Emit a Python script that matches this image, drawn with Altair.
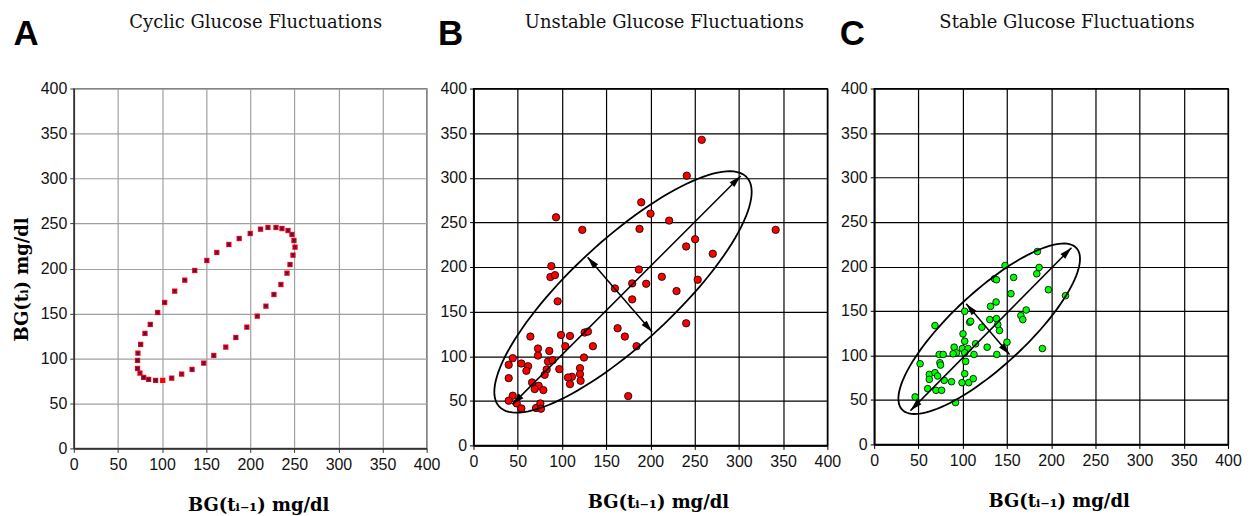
import altair as alt
import pandas as pd
import numpy as np

# ---------------- data ----------------
# Panel A: cyclic fluctuations (BG(t_i-1), BG(t_i))
A_x = [211.7, 220.1, 229.2, 236.0, 242.8, 247.3, 249.6, 250.8, 248.5, 245.1, 241.7,
       234.8, 226.9, 217.8, 208.0, 196.2, 183.7, 172.3, 158.7, 147.3, 134.1, 122.3,
       111.0, 100.8, 92.8, 84.8, 79.2, 75.0, 72.3, 72.3, 72.7, 75.8, 80.7, 86.7,
       95.1, 103.0, 114.4, 125.8, 137.1, 150.8, 162.1, 175.8, 187.5, 200.0]
A_y = [243.7, 245.6, 245.6, 244.4, 242.2, 237.8, 231.1, 223.7, 214.8, 204.4, 194.8,
       182.2, 171.1, 158.1, 147.0, 134.8, 123.3, 112.6, 103.3, 94.8, 87.8, 82.6,
       78.1, 75.6, 75.6, 76.7, 78.9, 83.7, 88.9, 97.8, 105.9, 115.6, 127.8, 137.8,
       151.1, 162.2, 174.8, 187.0, 197.8, 208.9, 217.8, 226.7, 233.3, 238.9]
A_no_cross = [23]  # index of the point drawn without the blue cross

# Panel B: unstable fluctuations
B_x = [258.0, 241.1, 189.6, 200.1, 221.2, 93.3, 123.0, 187.7, 341.6, 250.5, 240.4,
       270.5, 88.0, 86.9, 92.1, 186.9, 212.9, 179.4, 195.2, 253.5, 159.9, 229.5,
       179.4, 95.1, 240.4, 162.9, 171.1, 184.3, 64.3, 98.9, 109.1, 125.6, 129.4,
       135.0, 103.8, 72.9, 72.9, 85.7, 44.4, 39.8, 54.1, 61.7, 59.8, 84.2, 89.5,
       82.7, 80.5, 97.0, 124.9, 120.4, 120.4, 121.1, 111.3, 106.8, 109.1, 39.8,
       66.2, 73.7, 69.2, 79.0, 44.4, 39.8, 48.9, 54.1, 70.7, 75.6, 76.3, 174.9]
B_y = [342.5, 302.3, 272.5, 259.8, 252.0, 255.7, 241.6, 242.7, 241.6, 231.1, 223.0,
       214.8, 201.0, 188.7, 190.9, 197.2, 189.0, 181.6, 181.2, 185.7, 176.0, 173.0,
       163.7, 161.5, 136.9, 131.3, 122.0, 111.2, 122.0, 123.8, 122.7, 126.5, 127.6,
       111.2, 111.2, 108.6, 100.7, 105.9, 97.8, 90.3, 91.8, 88.8, 83.6, 94.0, 95.5,
       85.1, 79.1, 85.5, 98.5, 86.6, 79.9, 72.4, 76.9, 76.1, 68.7, 75.4,
       70.6, 66.8, 63.1, 62.0, 55.7, 50.1, 47.1, 41.5, 41.9, 47.1, 41.1, 55.3]

# Panel C: stable fluctuations
C_x = [184.5, 186.4, 183.8, 147.9, 157.6, 136.0, 138.2, 196.9, 216.3, 154.6, 137.8,
       131.5, 102.3, 171.8, 165.8, 168.0, 68.7, 107.9, 109.0, 130.7, 138.2, 139.7,
       121.7, 141.6, 100.4, 102.3, 114.6, 90.4, 99.7, 106.1, 150.1, 127.7, 190.1,
       93.0, 89.2, 73.5, 78.0, 102.3, 112.8, 103.4, 138.6, 51.9, 74.3, 75.0, 62.3,
       68.7, 71.7, 62.3, 79.1, 87.4, 99.3, 106.8, 112.0, 102.3, 60.5, 69.8, 76.2,
       46.3, 91.9]
C_y = [216.8, 198.9, 191.8, 201.1, 187.7, 186.2, 185.1, 173.9, 167.2, 169.4, 160.1,
       155.2, 149.6, 151.1, 144.8, 140.3, 133.6, 137.3, 138.4, 140.3, 141.4, 134.7,
       131.7, 128.0, 124.3, 116.0, 113.1, 109.3, 107.8, 107.8, 114.9, 109.3, 107.8,
       103.0, 101.9, 101.1, 101.1, 103.0, 101.1, 93.3, 101.1, 90.7, 91.8, 89.2, 78.7,
       80.6, 76.9, 73.1, 72.0, 70.5, 69.4, 69.4, 73.9, 79.5, 62.7, 60.8, 60.8,
       53.4, 47.0]

# Annotation ellipses: centre x, centre y, semi-major, semi-minor, tilt (deg)
B_ellipse = [169, 172, 190, 58, 42.5]
C_ellipse = [130, 130, 134, 42, 42.6]
# Double-headed arrows: x1, y1, x2, y2
B_arrows = [[44, 46, 302, 302], [129, 211, 202, 127]]
C_arrows = [[41, 38, 223, 221], [104, 158, 153, 101]]

ticks = list(range(0, 401, 50))
titles = ["Cyclic Glucose Fluctuations", "Unstable Glucose Fluctuations",
          "Stable Glucose Fluctuations"]
letters = ["A", "B", "C"]
x_title = "BG(t\u1d62\u208b\u2081) mg/dl"
y_title = "BG(t\u1d62) mg/dl"

LABEL_FONT = "Liberation Sans"
SERIF = "DejaVu Serif"


def ellipse_df(p):
    cx, cy, a, b, th = p
    t = np.linspace(0, 2 * np.pi, 121)
    r = np.radians(th)
    return pd.DataFrame({
        "i": np.arange(len(t)),
        "x": cx + a * np.cos(t) * np.cos(r) - b * np.sin(t) * np.sin(r),
        "y": cy + a * np.cos(t) * np.sin(r) + b * np.sin(t) * np.cos(r),
    })


def arrow_dfs(arrows):
    lines = pd.DataFrame(arrows, columns=["x", "y", "x2", "y2"])
    heads = []
    for x1, y1, x2, y2 in arrows:
        d = np.degrees(np.arctan2(y2 - y1, x2 - x1))
        heads.append({"x": x2, "y": y2, "ang": (90 - d) % 360})
        heads.append({"x": x1, "y": y1, "ang": (90 - (d + 180)) % 360})
    return lines, pd.DataFrame(heads)


def scales(grid_color, dom_color, show_y_title):
    xs = alt.Scale(domain=[0, 400], nice=False)
    ax_common = dict(values=ticks, grid=True, gridColor=grid_color, gridWidth=1.2,
                     gridOpacity=1, domainColor=dom_color, domainWidth=1.6,
                     tickColor=dom_color, tickSize=4, labelFont=LABEL_FONT,
                     labelFontSize=16, labelColor="#111", labelFlush=False,
                     labelOverlap=False)
    xax = alt.Axis(title=x_title, titleFont=SERIF, titleFontSize=18,
                   titleFontWeight="bold", titlePadding=24, titleX=185,
                   labelPadding=4, **ax_common)
    if show_y_title:
        yax = alt.Axis(title=y_title, titleFont=SERIF, titleFontSize=18,
                       titleFontWeight="bold", titleX=-42, titleY=191,
                       labelPadding=3, **ax_common)
    else:
        yax = alt.Axis(title=None, labelPadding=3, **ax_common)
    return xs, xax, yax


def text_layers(letter, title, lx, tx):
    lab = alt.Chart(pd.DataFrame({"t": [letter]})).mark_text(
        font=LABEL_FONT, fontSize=35, fontWeight="bold", align="left",
        baseline="alphabetic", color="black"
    ).encode(text="t:N", x=alt.value(lx), y=alt.value(-44))
    tt = alt.Chart(pd.DataFrame({"t": [title]})).mark_text(
        font=SERIF, fontSize=18, align="center", baseline="alphabetic",
        color="#111"
    ).encode(text="t:N", x=alt.value(tx), y=alt.value(-61))
    return [lab, tt]


# ---------------- Panel A ----------------
xs, xax, yax = scales("#a0a0a0", "#333333", True)
dfA = pd.DataFrame({"x": A_x, "y": A_y})
dfA_cross = dfA.drop(index=A_no_cross)
a_sq = alt.Chart(dfA).mark_point(shape="square", filled=True, color="#ff0000",
                                 size=28, opacity=1).encode(
    x=alt.X("x:Q", scale=xs, axis=xax),
    y=alt.Y("y:Q", scale=alt.Scale(domain=[0, 400], nice=False), axis=yax))
a_x = alt.Chart(dfA_cross).mark_point(shape="M-1,-1L1,1M-1,1L1,-1", filled=False,
                                      color="#1a1a80", size=8, strokeWidth=1.2,
                                      opacity=1).encode(x="x:Q", y="y:Q")
panelA = alt.layer(a_sq, a_x, *text_layers("A", titles[0], -60.5, 182.5)).properties(
    width=354, height=361, view=alt.ViewBackground(stroke="#666666", strokeWidth=1.4))


def scatter_panel(xv, yv, fill, size, ell, arrows, letter, title, h, lx, tx):
    xs, xax, yax = scales("#000000", "#000000", False)
    df = pd.DataFrame({"x": xv, "y": yv})
    pts = alt.Chart(df).mark_point(shape="circle", filled=True, fill=fill,
                                   stroke="#000000", strokeWidth=0.8, size=size,
                                   opacity=1).encode(
        x=alt.X("x:Q", scale=xs, axis=xax),
        y=alt.Y("y:Q", scale=alt.Scale(domain=[0, 400], nice=False), axis=yax))
    e = alt.Chart(ellipse_df(ell)).mark_line(color="black", strokeWidth=1.8).encode(
        x="x:Q", y="y:Q", order="i:Q")
    lines, heads = arrow_dfs(arrows)
    r = alt.Chart(lines).mark_rule(color="black", strokeWidth=1.5).encode(
        x="x:Q", y="y:Q", x2="x2:Q", y2="y2:Q")
    hd = alt.Chart(heads).mark_point(shape="M0,0L-0.55,2L0.55,2Z", filled=True,
                                     color="black", size=150, opacity=1).encode(
        x="x:Q", y="y:Q", angle=alt.Angle("ang:Q", scale=None))
    return alt.layer(pts, e, r, hd, *text_layers(letter, title, lx, tx)).properties(
        width=355, height=h, view=alt.ViewBackground(stroke="#000000", strokeWidth=1.4))


panelB = scatter_panel(B_x, B_y, "#ff0000", 55, B_ellipse, B_arrows, "B", titles[1],
                       358, -35.5, 191.5)
panelC = scatter_panel(C_x, C_y, "#00ff00", 45, C_ellipse, C_arrows, "C", titles[2],
                       357, -34.5, 193.5)

chart = alt.hconcat(panelA, panelB, panelC, spacing=47, bounds="flush").properties(
    padding={"left": 4, "top": 4, "right": 0, "bottom": 0},
    background="white")

chart.save("out.html", embed_options={"renderer": "svg", "actions": False})
